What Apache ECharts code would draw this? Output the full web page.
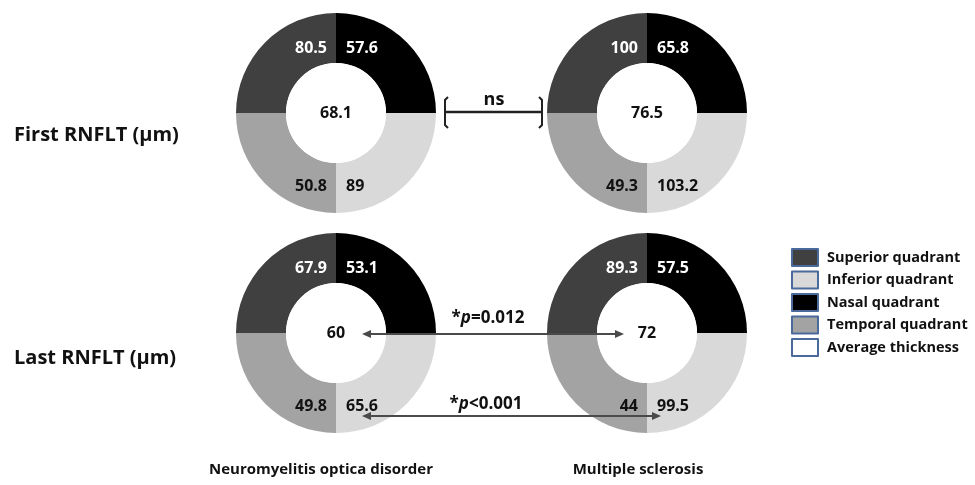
<!DOCTYPE html>
<html><head><meta charset="utf-8">
<script src="https://cdn.jsdelivr.net/npm/echarts@6/dist/echarts.min.js"></script>
<style>html,body{margin:0;padding:0;background:#fff}#c{width:975px;height:485px}</style>
</head><body><div id="c"></div>
<script>
// quadrant order: Nasal (top-right), Inferior (bottom-right), Temporal (bottom-left), Superior (top-left)
const quadrants = ['Nasal quadrant', 'Inferior quadrant', 'Temporal quadrant', 'Superior quadrant'];
const legendNames = ['Superior quadrant', 'Inferior quadrant', 'Nasal quadrant', 'Temporal quadrant', 'Average thickness'];
const groups = ['Neuromyelitis optica disorder', 'Multiple sclerosis'];
const rows = ['First RNFLT (µm)', 'Last RNFLT (µm)'];
// values per donut in quadrant order [Nasal, Inferior, Temporal, Superior]
const nmoFirst = ['57.6', '89', '50.8', '80.5'];
const msFirst = ['65.8', '103.2', '49.3', '100'];
const nmoLast = ['53.1', '65.6', '49.8', '67.9'];
const msLast = ['57.5', '99.5', '44', '89.3'];
const averages = ['68.1', '76.5', '60', '72'];
const quadrantShare = [1, 1, 1, 1]; // equal quadrants

const colors = {
  'Superior quadrant': '#404040',
  'Inferior quadrant': '#d9d9d9',
  'Nasal quadrant': '#000000',
  'Temporal quadrant': '#a3a3a3',
  'Average thickness': '#ffffff'
};
const labelColors = {
  'Superior quadrant': '#ffffff',
  'Nasal quadrant': '#ffffff',
  'Inferior quadrant': '#111111',
  'Temporal quadrant': '#111111'
};
const FONT = 'Open Sans';
const donuts = [
  {vals: nmoFirst, avg: averages[0], center: [336, 113]},
  {vals: msFirst, avg: averages[1], center: [647, 113]},
  {vals: nmoLast, avg: averages[2], center: [336, 333]},
  {vals: msLast, avg: averages[3], center: [647, 333]}
];
const RO = 100, RI = 50;

const series = [];
donuts.forEach(d => {
  series.push({
    type: 'pie', center: d.center, radius: [RI, RO], startAngle: 90, clockwise: true,
    silent: true, animation: false, avoidLabelOverlap: false,
    itemStyle: {borderWidth: 0},
    emphasis: {disabled: true},
    data: quadrants.map((q, i) => ({
      name: q, value: quadrantShare[i],
      itemStyle: {color: colors[q]},
      label: {color: labelColors[q]}
    })),
    label: {
      show: true, position: 'inside', fontFamily: FONT, fontWeight: 'bold', fontSize: 16,
      formatter: p => d.vals[p.dataIndex]
    },
    labelLine: {show: false},
    labelLayout: function (p) {
      const r = p.rect;
      const right = p.dataIndex === 0 || p.dataIndex === 1;
      const top = p.dataIndex === 0 || p.dataIndex === 3;
      return {
        x: right ? r.x + 10 : r.x + r.width - 9,
        y: top ? r.y + 35 : r.y + r.height - 27,
        align: right ? 'left' : 'right',
        verticalAlign: 'middle'
      };
    }
  });
  series.push({
    type: 'pie', center: d.center, radius: [0, RI], silent: true, animation: false,
    emphasis: {disabled: true},
    data: [{name: 'Average thickness', value: 1, itemStyle: {color: colors['Average thickness']}}],
    label: {show: true, position: 'center', formatter: () => d.avg, fontFamily: FONT, fontWeight: 'bold', fontSize: 16, color: '#111'},
    labelLine: {show: false}
  });
});

const txt = (x, y, t, opt) => Object.assign({type: 'text', x, y, z: 100,
  style: Object.assign({text: t, fontFamily: FONT, fontWeight: 'bold', fontSize: 16, fill: '#111', textAlign: 'left', textVerticalAlign: 'middle'}, opt || {})});
const line = (pts, col, w) => ({type: 'polyline', z: 100, shape: {points: pts}, style: {stroke: col, lineWidth: w, fill: null}});
const head = (x, y, dir, col) => ({type: 'polygon', z: 100, shape: {points: [[x, y], [x - dir * 9, y - 4], [x - dir * 9, y + 4]]}, style: {fill: col}});
const AC = '#4a4a4a';
const rich = {a: {fontFamily: FONT, fontWeight: 'bold', fontSize: 17, fill: '#111'},
              b: {fontFamily: FONT, fontWeight: 'bold', fontStyle: 'italic', fontSize: 17, fill: '#111'}};

const graphic = [
  txt(14, 135, rows[0], {fontSize: 20}),
  txt(14, 358, rows[1], {fontSize: 20}),
  txt(321, 470, groups[0], {fontSize: 15, textAlign: 'center'}),
  txt(638, 470, groups[1], {fontSize: 15, textAlign: 'center'}),
  // ns bracket
  txt(494, 100, 'ns', {fontSize: 18, textAlign: 'center'}),
  line([[446, 112], [541, 112]], '#222', 2.5),
  line([[448, 97], [445, 100], [445, 125], [448, 128]], '#222', 2),
  line([[539, 97], [542, 100], [542, 125], [539, 128]], '#222', 2),
  // p = 0.012
  {type: 'text', x: 488, y: 318, z: 100, style: {text: '{a|*}{b|p}{a|=0.012}', textAlign: 'center', textVerticalAlign: 'middle', rich}},
  line([[364, 334], [622, 334]], AC, 1.8),
  head(362, 334, -1, AC), head(624, 334, 1, AC),
  // p < 0.001
  {type: 'text', x: 486, y: 404, z: 100, style: {text: '{a|*}{b|p}{a|<0.001}', textAlign: 'center', textVerticalAlign: 'middle', rich}},
  line([[364, 416], [659, 416]], AC, 1.8),
  head(362, 416, -1, AC), head(661, 416, 1, AC)
];

const chart = echarts.init(document.getElementById('c'), null, {renderer: 'canvas'});
chart.setOption({
  backgroundColor: '#fff',
  animation: false,
  legend: {
    orient: 'vertical', left: 791, top: 248, padding: 0, icon: 'rect', itemWidth: 26, itemHeight: 17, itemGap: 3.5,
    selectedMode: false,
    data: legendNames,
    itemStyle: {borderColor: '#4a6a9c', borderWidth: 2},
    textStyle: {fontFamily: FONT, fontWeight: 'bold', fontSize: 14.5, lineHeight: 17, color: '#111', padding: [0, 0, 0, 4]}
  },
  series,
  graphic
});
</script></body></html>
